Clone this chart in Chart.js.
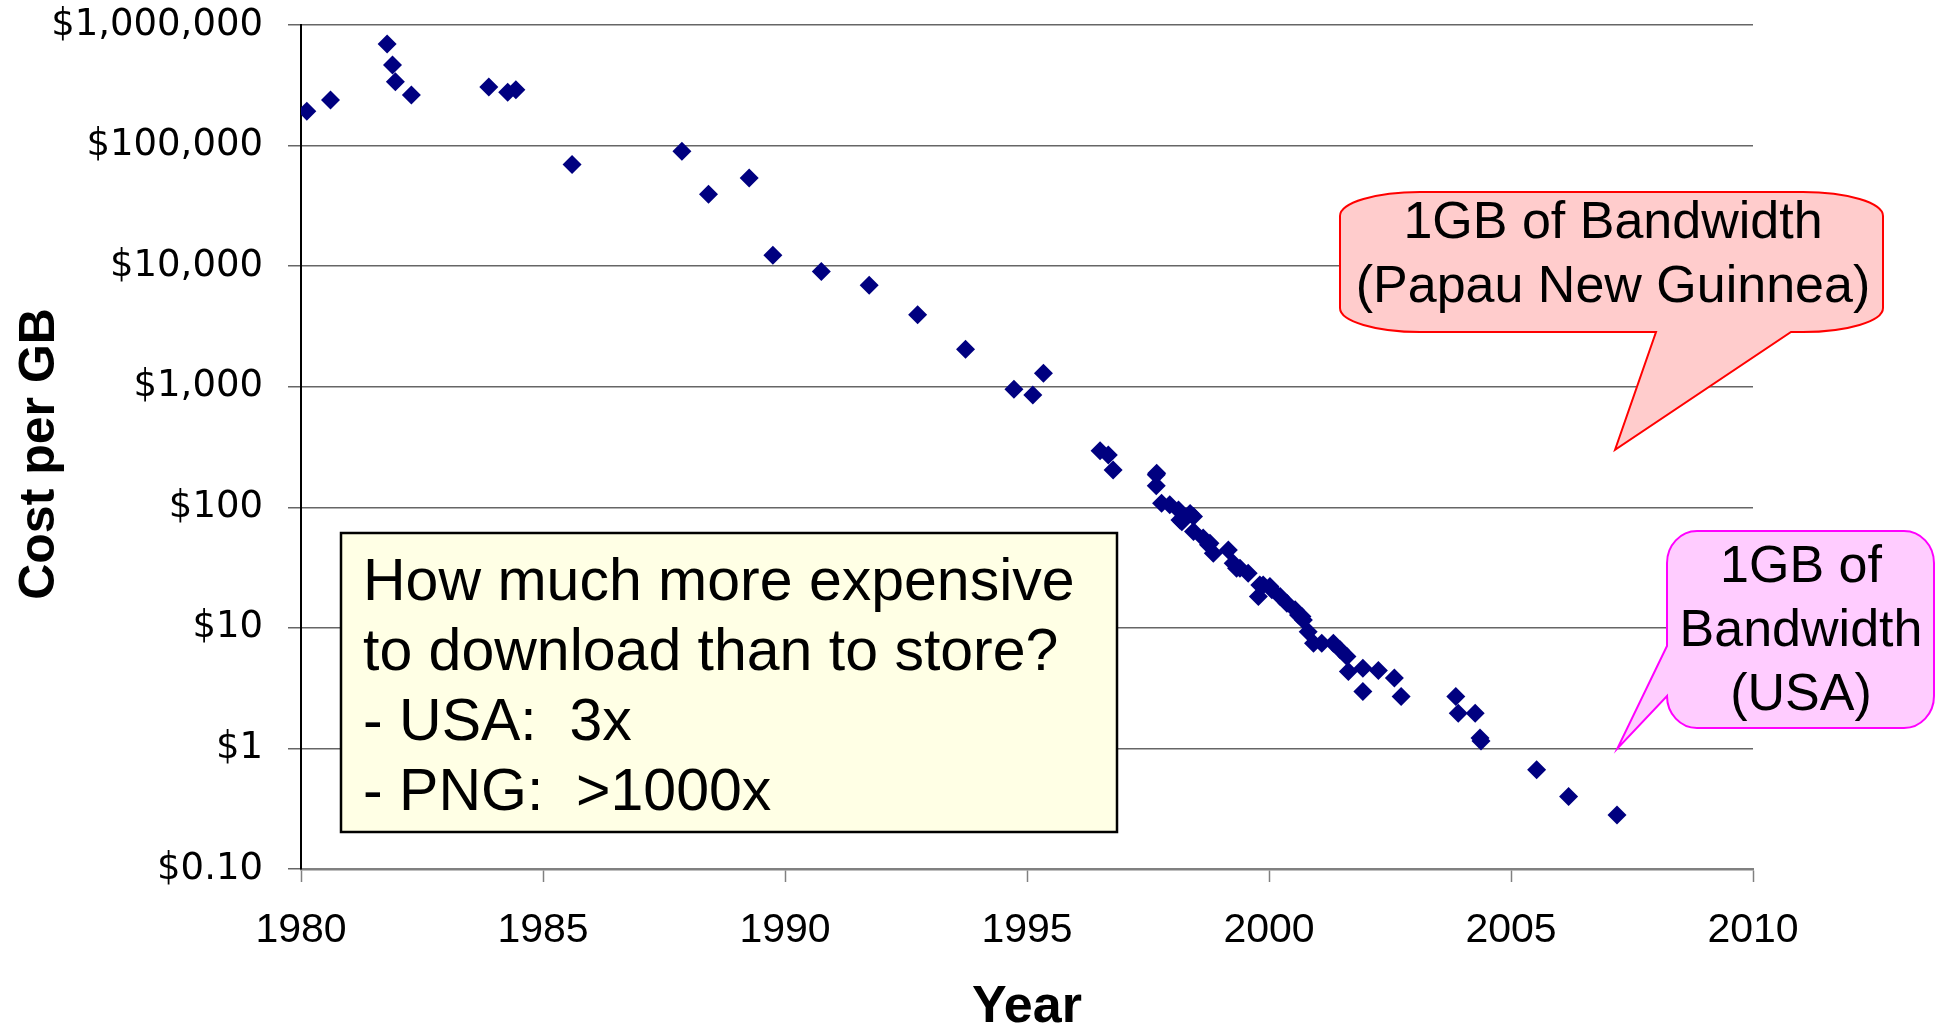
<!DOCTYPE html>
<html>
<head>
<meta charset="utf-8">
<script src="https://cdn.jsdelivr.net/npm/chart.js@4.4.1/dist/chart.umd.min.js"></script>
<style>
  html, body { margin: 0; padding: 0; background: #fff; }
  #wrap { width: 1939px; height: 1030px; }
</style>
</head>
<body>
<div id="wrap"><canvas id="costChart" width="1939" height="1030"></canvas></div>
<script>
// Cost per GB over time (log scale).
const years = [
  1980.12, 1980.61, 1981.78, 1981.89, 1981.95, 1982.28, 1983.88, 1984.27, 1984.44,
  1985.6, 1987.87, 1988.42, 1989.26, 1989.75, 1990.75, 1991.74, 1992.74, 1993.73,
  1994.73, 1995.12, 1995.34, 1996.51, 1996.68, 1996.78, 1997.67, 1997.68, 1997.67,
  1997.78, 1997.95, 1998.13, 1998.2, 1998.16, 1998.37, 1998.44, 1998.44, 1998.64,
  1998.75, 1998.78, 1998.85, 1999.16, 1999.26, 1999.33, 1999.4, 1999.57, 1999.78,
  1999.81, 1999.88, 2000.02, 2000.06, 2000.23, 2000.37, 2000.54, 2000.61, 2000.68,
  2000.71, 2000.81, 2000.92, 2001.09, 2001.33, 2001.47, 2001.61, 2001.64, 2001.94,
  2001.94, 2002.26, 2002.59, 2002.73, 2003.86, 2003.91, 2004.26, 2004.36, 2004.38,
  2005.53, 2006.19, 2007.19
];
const costs = [
  193000, 239000, 695000, 466000, 339000, 263000, 306000, 277000, 291000,
  69500, 89700, 39400, 53900, 12300, 9010, 6940, 3960, 2050,
  953, 855, 1294, 294, 272, 204, 186, 192, 151,
  108, 105, 95, 76, 78.6, 89, 83.8, 63, 55.5,
  48.8, 50.4, 41.6, 44.3, 34.4, 31.2, 31.2, 28.4, 18.2,
  22.7, 22.7, 22, 20.7, 18.2, 16, 14.1, 12.8, 12.4,
  11.6, 9.3, 7.46, 7.46, 7.46, 6.57, 5.78, 4.34, 4.63,
  2.96, 4.43, 3.83, 2.69, 2.69, 1.96, 1.96, 1.22, 1.15,
  0.665, 0.40, 0.281
];

const yTickValues = [0.1, 1, 10, 100, 1000, 10000, 100000, 1000000];
const yTickLabels = ['$0.10', '$1', '$10', '$100', '$1,000', '$10,000', '$100,000', '$1,000,000'];
const xTickValues = [1980, 1985, 1990, 1995, 2000, 2005, 2010];

// where the two callout tails point (year, cost)
const pngTarget = [2007.15, 300];
const usaTarget = [2007.2, 1];

const noteLines = ['How much more expensive', 'to download than to store?', '- USA:  3x', '- PNG:  >1000x'];
const pngLines = ['1GB of Bandwidth', '(Papau New Guinnea)'];
const usaLines = ['1GB of', 'Bandwidth', '(USA)'];

const points = years.map((y, i) => ({ x: y, y: costs[i] }));

// rounded box with elliptical corners; tail is a list of points inserted on one edge
function calloutPath(ctx, x0, y0, x1, y1, rx, ry, tail, tailEdge) {
  ctx.beginPath();
  ctx.moveTo(x0 + rx, y0);
  ctx.lineTo(x1 - rx, y0);
  ctx.ellipse(x1 - rx, y0 + ry, rx, ry, 0, -Math.PI / 2, 0);
  ctx.lineTo(x1, y1 - ry);
  ctx.ellipse(x1 - rx, y1 - ry, rx, ry, 0, 0, Math.PI / 2);
  if (tailEdge === 'bottom') tail.forEach(p => ctx.lineTo(p[0], p[1]));
  ctx.lineTo(x0 + rx, y1);
  ctx.ellipse(x0 + rx, y1 - ry, rx, ry, 0, Math.PI / 2, Math.PI);
  if (tailEdge === 'left') tail.forEach(p => ctx.lineTo(p[0], p[1]));
  ctx.lineTo(x0, y0 + ry);
  ctx.ellipse(x0 + rx, y0 + ry, rx, ry, 0, Math.PI, Math.PI * 1.5);
  ctx.closePath();
}

const annotations = {
  id: 'annotations',
  afterDraw(chart) {
    const ctx = chart.ctx;
    const xs = chart.scales.x, ys = chart.scales.y;
    ctx.save();

    // question box
    ctx.fillStyle = '#ffffe5';
    ctx.fillRect(341, 533, 776, 299);
    ctx.lineWidth = 2.5;
    ctx.strokeStyle = '#000';
    ctx.strokeRect(341, 533, 776, 299);
    ctx.fillStyle = '#000';
    ctx.font = '59px "Liberation Sans", Arial, sans-serif';
    ctx.textAlign = 'left';
    ctx.textBaseline = 'alphabetic';
    noteLines.forEach((t, i) => ctx.fillText(t, 363, 600 + i * 70));

    // Papua New Guinea callout
    const pTip = [xs.getPixelForValue(pngTarget[0]), ys.getPixelForValue(pngTarget[1])];
    calloutPath(ctx, 1340, 192, 1883, 332, 80, 24,
      [[1791, 332], pTip, [1656, 332]], 'bottom');
    ctx.fillStyle = '#ffcccc';
    ctx.fill();
    ctx.lineWidth = 2;
    ctx.strokeStyle = '#ff0000';
    ctx.stroke();
    ctx.fillStyle = '#000';
    ctx.font = '52px "Liberation Sans", Arial, sans-serif';
    ctx.textAlign = 'center';
    pngLines.forEach((t, i) => ctx.fillText(t, 1613, 238 + i * 64));

    // USA callout
    const uTip = [xs.getPixelForValue(usaTarget[0]), ys.getPixelForValue(usaTarget[1])];
    calloutPath(ctx, 1667, 531, 1934, 728, 30, 32,
      [[1667, 696], uTip, [1667, 646]], 'left');
    ctx.fillStyle = '#ffccff';
    ctx.fill();
    ctx.strokeStyle = '#ff00ff';
    ctx.stroke();
    ctx.fillStyle = '#000';
    usaLines.forEach((t, i) => ctx.fillText(t, 1801, 582 + i * 64));

    ctx.restore();
  }
};

new Chart(document.getElementById('costChart'), {
  type: 'scatter',
  data: {
    datasets: [{
      label: 'Cost per GB',
      data: points,
      pointStyle: 'rectRot',
      pointRadius: 9.5,
      pointHoverRadius: 9.5,
      pointBorderWidth: 0,
      backgroundColor: '#000080',
      borderColor: '#000080'
    }]
  },
  options: {
    responsive: false,
    devicePixelRatio: 1,
    animation: false,
    layout: { padding: { top: 25, right: 186, left: 0, bottom: 0 } },
    plugins: {
      legend: { display: false },
      tooltip: { enabled: false }
    },
    scales: {
      x: {
        type: 'linear',
        min: 1980,
        max: 2010,
        afterBuildTicks: s => { s.ticks = xTickValues.map(v => ({ value: v })); },
        afterFit: s => { s.height = 161; },
        ticks: {
          autoSkip: false,
          maxRotation: 0,
          padding: 24,
          color: '#000',
          font: { family: '"Liberation Sans", Arial, sans-serif', size: 41 },
          callback: v => String(v)
        },
        grid: { drawOnChartArea: false, tickLength: 13, tickColor: '#808080', tickWidth: 1.5 },
        border: { color: '#808080', width: 2.5 },
        title: {
          display: true,
          text: 'Year',
          color: '#000',
          padding: { top: 0, bottom: 0 },
          font: { family: '"Liberation Sans", Arial, sans-serif', size: 52, weight: 'bold', lineHeight: 0.85 }
        }
      },
      y: {
        type: 'logarithmic',
        min: 0.1,
        max: 1000000,
        afterBuildTicks: s => { s.ticks = yTickValues.map(v => ({ value: v })); },
        afterFit: s => {
          s.width = 301;
          // tick padding is horizontal here, keep it out of the vertical overflow
          s.paddingTop = 0;
          s.paddingBottom = 0;
        },
        ticks: {
          autoSkip: false,
          padding: 25,
          color: '#000',
          font: { family: '"DejaVu Sans", sans-serif', size: 37 },
          callback: (v, i) => yTickLabels[i]
        },
        grid: { color: '#666', lineWidth: 1.5, tickLength: 13, tickColor: '#666' },
        border: { color: '#000', width: 2 },
        title: {
          display: true,
          text: 'Cost per GB ',
          color: '#000',
          padding: { top: 15, bottom: 0 },
          font: { family: '"Liberation Sans", Arial, sans-serif', size: 50, weight: 'bold', lineHeight: 1 }
        }
      }
    }
  },
  plugins: [annotations]
});
</script>
</body>
</html>
